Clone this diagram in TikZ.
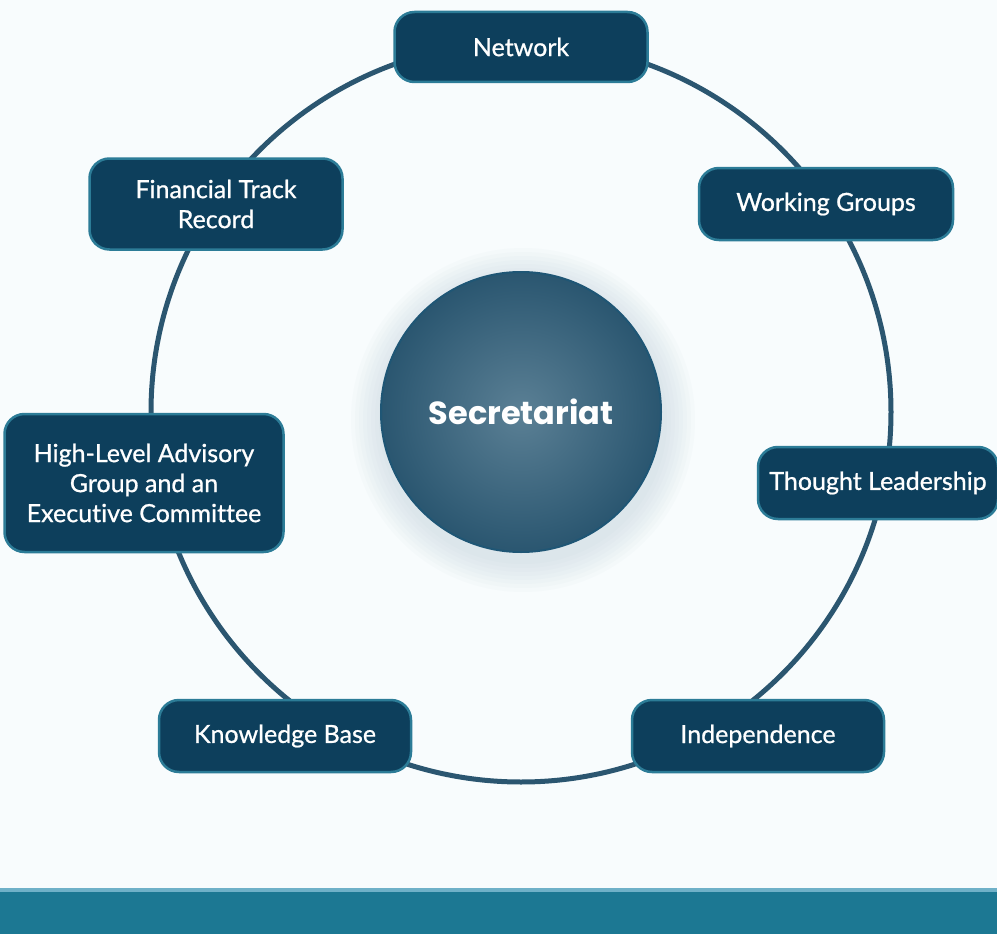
\documentclass[tikz,border=0pt]{standalone}
\usepackage{fontspec}
\setmainfont{Lato}
\newfontfamily\boxfont{Lato}[Ligatures=CommonOff, UprightFeatures={FakeBold=0.8}]
\newfontfamily\hubfont{Poppins}
\definecolor{boxfill}{HTML}{0D3F5C}
\definecolor{boxedge}{HTML}{2C7C97}
\definecolor{ringcol}{HTML}{2B5670}
\definecolor{hubinner}{HTML}{5B8095}
\definecolor{hubouter}{HTML}{2A5670}
\definecolor{hubedge}{HTML}{1F5675}
\definecolor{bandcol}{HTML}{1C7893}
\definecolor{bandtop}{HTML}{6FB1C8}
\definecolor{bgcol}{HTML}{F8FCFD}
\definecolor{shadecol}{HTML}{9DB8C6}
\tikzset{
    item/.style={draw=boxedge, line width=2.5pt, fill=boxfill, rounded corners=20pt,
        text=white, align=center, inner sep=0pt,
        font=\boxfont\fontsize{25}{30}\selectfont},
    hub/.style={circle, draw=hubedge, line width=2pt, inner color=hubinner,
        outer color=hubouter, minimum size=280pt, inner sep=0pt, text=white,
        font=\hubfont\bfseries\fontsize{32}{36}\selectfont}
}
\begin{document}
\begin{tikzpicture}[x=1pt, y=-1pt]
    \useasboundingbox (0,0) rectangle (997,934);
    \fill[bgcol] (0,0) rectangle (997,934);

    % soft glow round the hub
    \foreach \r in {172,168,...,144}
        \fill[shadecol, opacity=0.04] (523,420) circle[radius=\r];

    \draw[ringcol, line width=5pt] (521,412) circle[radius=370];

    \node[hub] (hub) at (521,412) {Secretariat};

    \begin{scope}[every node/.append style={item}]
        \node[minimum width=253pt, minimum height=70pt] (network) at (521,47) {Network};
        \node[minimum width=254pt, minimum height=72pt] (groups) at (826,204) {Working Groups};
        \node[minimum width=240pt, minimum height=72pt] (thought) at (878,483) {Thought Leadership};
        \node[minimum width=252pt, minimum height=72pt] (independence) at (758,736) {Independence};
        \node[minimum width=252pt, minimum height=72pt] (knowledge) at (285,736) {Knowledge Base};
        \node[minimum width=279pt, minimum height=138pt] (advisory) at (144,483) {High-Level Advisory\\Group and an\\Executive Committee};
        \node[minimum width=253pt, minimum height=91pt] (finance) at (216,204) {Financial Track\\Record};
    \end{scope}

    % band at the foot
    \fill[bandtop] (0,888) rectangle (997,892);
    \fill[bandcol] (0,892) rectangle (997,934);
\end{tikzpicture}
\end{document}
